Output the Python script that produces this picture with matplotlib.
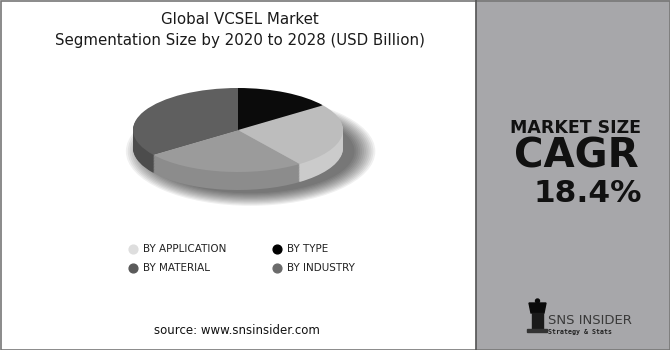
import matplotlib
matplotlib.use("Agg")
import matplotlib.pyplot as plt
import numpy as np
from matplotlib.patches import Rectangle, Ellipse, Polygon

# chart data (share of segments)
segments = ["BY TYPE", "BY APPLICATION", "BY INDUSTRY", "BY MATERIAL"]
shares = [15, 25, 25, 35]
top_colors = ["#0b0b0b", "#bdbdbd", "#9b9b9b", "#5f5f5f"]
side_colors = ["#000000", "#cbcbcb", "#8c8c8c", "#4c4c4c"]

legend_labels = ["BY APPLICATION", "BY TYPE", "BY MATERIAL", "BY INDUSTRY"]
legend_colors = ["#dedede", "#000000", "#5a5a5a", "#6b6b6b"]

title_lines = ["Global VCSEL Market", "Segmentation Size by 2020 to 2028 (USD Billion)"]
cagr_text = "18.4%"
source_text = "source: www.snsinsider.com"

W, H = 670, 350
fig = plt.figure(figsize=(W / 100, H / 100), dpi=100)

# background/layout axes in pixel units
bg = fig.add_axes([0, 0, 1, 1])
bg.set_xlim(0, W)
bg.set_ylim(H, 0)
bg.axis("off")
bg.add_patch(Rectangle((476, 0), W - 476, H, color="#a7a7aa", zorder=0))
bg.plot([476, 476], [0, H], color="#555555", lw=1.2)
bg.add_patch(Rectangle((0.5, 0.5), W - 1, H - 1, fill=False, ec="#777777", lw=1.2))

bg.text(240, 20, title_lines[0], ha="center", va="center", fontsize=10.8, color="#1a1a1a")
bg.text(240, 41, title_lines[1], ha="center", va="center", fontsize=10.8, color="#1a1a1a")

# legend
leg_pos = [(133, 249), (277, 249), (133, 268), (277, 268)]
for (x, y), lab, col in zip(leg_pos, legend_labels, legend_colors):
    bg.scatter([x], [y], s=40, color=col, zorder=3)
    bg.text(x + 10, y, lab, ha="left", va="center", fontsize=7.5, color="#222222")

bg.text(237, 330, source_text, ha="center", va="center", fontsize=8.5, color="#111111")

# right panel
bg.text(576, 128, "MARKET SIZE", ha="center", va="center", fontsize=12.5,
        fontweight="bold", color="#111111")
bg.text(576, 156, "CAGR", ha="center", va="center", fontsize=29,
        fontweight="bold", color="#111111")
bg.text(642, 194, cagr_text, ha="right", va="center", fontsize=22.5,
        fontweight="bold", color="#111111")

# logo
bg.add_patch(Polygon([(529, 303), (546, 303), (544, 313), (531, 313)],
                     color="#0a0a0a", zorder=3))
bg.add_patch(Rectangle((532, 313), 11, 16, color="#1a1a1a", zorder=3))
bg.add_patch(Rectangle((527, 329), 20, 3, color="#333333", zorder=3))
bg.add_patch(Ellipse((537.5, 301), 4, 4, color="#0a0a0a", zorder=3))
bg.text(548, 320, "SNS INSIDER", ha="left", va="center", fontsize=9.5, color="#3a3a3a")
bg.text(548, 332, "Strategy & Stats", ha="left", va="center", fontsize=4.8,
        fontweight="bold", color="#222222", family="DejaVu Sans Mono")

# 3D-looking pie
cx, cy, rx, ry, depth_px = 238, 130, 105, 42, 18
top_px, bot_px = 75, 225
left_px, right_px = cx - 135, cx + 150
pax = fig.add_axes([left_px / W, (H - bot_px) / H,
                    (right_px - left_px) / W, (bot_px - top_px) / H])
depth = depth_px / ry

# soft shadow, offset to the lower right
for i in range(12):
    grow = 0.018 * i
    pax.add_patch(Ellipse((0.12, -depth - 0.08), 1.98 + grow * 2, 2.0 + grow * 3,
                          color="black", alpha=0.06, lw=0, zorder=0))

for d in np.linspace(depth, 0.02, 24):
    pax.pie(shares, colors=side_colors, startangle=90, counterclock=False,
            center=(0, -d), wedgeprops=dict(linewidth=0))
pax.pie(shares, colors=top_colors, startangle=90, counterclock=False,
        center=(0, 0), wedgeprops=dict(linewidth=0))

pax.set_aspect("auto")
pax.set_xlim(-(cx - left_px) / rx, (right_px - cx) / rx)
pax.set_ylim(-(bot_px - cy) / ry, (cy - top_px) / ry)
pax.axis("off")

fig.savefig("out.png", dpi=100)
